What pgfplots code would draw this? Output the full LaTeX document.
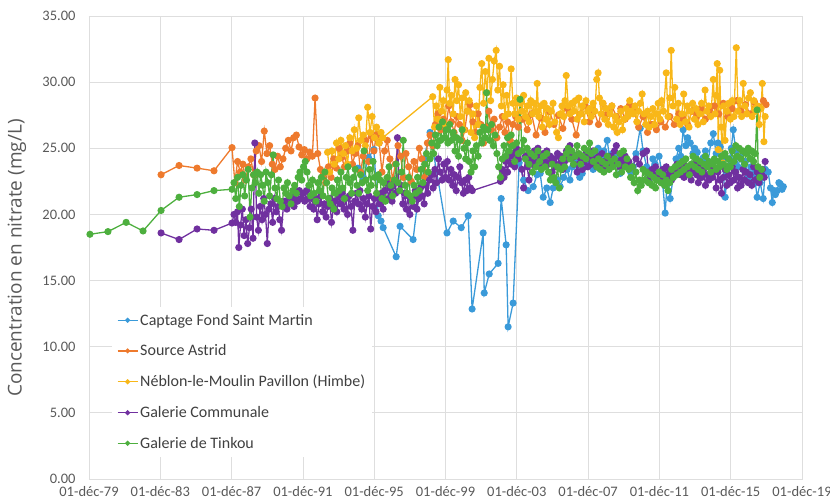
\documentclass[border=0pt]{standalone}
\usepackage{fontspec}
\setmainfont{Carlito}
\newfontfamily\labelfont{Open Sans}
\usepackage{pgfplots}
\pgfplotsset{compat=1.18}
\definecolor{cblue}{HTML}{3A9AD9}
\definecolor{corange}{HTML}{EE7A2D}
\definecolor{cyellow}{HTML}{F8B718}
\definecolor{cpurple}{HTML}{70309F}
\definecolor{cgreen}{HTML}{4DAF3E}
\definecolor{gridgray}{HTML}{DEDEDE}
\definecolor{txtgray}{HTML}{595959}
\definecolor{legtxt}{HTML}{404040}
\begin{document}
\begin{tikzpicture}
\begin{axis}[
  scale only axis, width=713pt, height=463pt,
  xmin=1979.917, xmax=2019.917, ymin=0, ymax=35,
  xtick={1979.917,1983.917,1987.917,1991.917,1995.917,1999.917,2003.917,2007.917,2011.917,2015.917,2019.917},
  xticklabels={01-déc-79,01-déc-83,01-déc-87,01-déc-91,01-déc-95,01-déc-99,01-déc-03,01-déc-07,01-déc-11,01-déc-15,01-déc-19},
  ytick={0,5,10,15,20,25,30,35},
  yticklabels={0.00,5.00,10.00,15.00,20.00,25.00,30.00,35.00},
  grid=major, major grid style={draw=gridgray, line width=0.8pt},
  axis line style={draw=gridgray, line width=0.8pt},
  major tick length=0pt,
  tick label style={font=\fontsize{14.5}{17}\selectfont, text=txtgray},
  xticklabel style={yshift=-4pt},
  yticklabel style={xshift=-10pt},
  ylabel={Concentration en nitrate (mg/L)},
  ylabel style={font=\labelfont\fontsize{19}{23}\selectfont, text=txtgray, at={(axis description cs:-0.101,0.477)}, anchor=center},
  legend style={at={(axis description cs:0.032,0.372)}, anchor=north west, fill=white, draw=none,
    font=\fontsize{16}{19}\selectfont, text=legtxt, row sep=14pt, inner sep=5pt},
  legend cell align=left,
  legend image code/.code={\draw[mark repeat=2,mark phase=2,mark size=1.8pt] plot coordinates {(0cm,0cm) (0.35cm,0cm) (0.7cm,0cm)};},
  every axis plot/.append style={line width=1.3pt, mark=*, mark size=2.9pt},
]
% Captage Fond Saint Martin
\addplot[color=cblue] coordinates {
(1995.0,23.5) (1995.3,22.8) (1995.6,24.3) (1995.9,24.9) (1996.14,19.9) (1996.3,19.5) (1996.42,19.0) (1997.15,16.8) (1997.37,19.1) (1998.1,18.1) (1998.4,21.5) (1998.7,24.2) (1999.05,26.2) (2000.0,18.6) (2000.35,19.5) (2000.8,19.0) (2001.19,19.9) (2001.41,12.85) (2002.03,18.6) (2002.09,14.06) (2002.37,15.5) (2002.87,16.3) (2003.04,21.2) (2003.32,17.7) (2003.43,11.5) (2003.71,13.3) (2004.05,23.9) (2004.3,22.6) (2004.55,21.8) (2004.84,22.1) (2005.05,23.0) (2005.23,23.1) (2005.4,21.3) (2005.6,22.0) (2005.79,20.9) (2005.96,22.0) (2006.18,22.6) (2006.35,22.1) (2006.55,22.8) (2006.74,23.4) (2006.9,22.6) (2007.05,23.6) (2007.3,23.9) (2007.45,22.8) (2007.59,23.1) (2007.8,23.8) (2008.03,24.3) (2008.2,23.4) (2008.35,24.6) (2008.48,25.0) (2008.65,24.2) (2008.8,24.8) (2008.99,25.6) (2009.15,24.0) (2009.27,24.6) (2009.45,23.8) (2009.6,24.4) (2009.72,23.1) (2009.9,23.8) (2010.11,24.0) (2010.3,23.2) (2010.45,23.6) (2010.6,24.6) (2010.84,26.5) (2011.0,24.8) (2011.2,23.6) (2011.4,22.8) (2011.55,24.2) (2011.68,23.8) (2011.9,24.4) (2012.05,23.2) (2012.24,20.1) (2012.38,23.0) (2012.52,21.2) (2012.69,22.8) (2012.85,24.2) (2013.0,25.0) (2013.12,24.4) (2013.25,26.4) (2013.4,25.2) (2013.5,25.8) (2013.65,25.4) (2013.8,24.6) (2013.9,25.0) (2014.04,24.7) (2014.2,23.8) (2014.38,24.3) (2014.5,24.8) (2014.65,24.0) (2014.8,25.4) (2014.94,26.1) (2015.1,24.6) (2015.2,25.4) (2015.33,25.1) (2015.45,24.0) (2015.61,21.3) (2015.72,23.1) (2015.85,24.2) (2015.95,25.0) (2016.06,26.4) (2016.2,24.8) (2016.32,23.6) (2016.45,24.3) (2016.6,23.4) (2016.75,24.0) (2016.9,22.8) (2017.05,23.6) (2017.18,23.1) (2017.3,22.4) (2017.4,21.3) (2017.57,22.4) (2017.74,21.2) (2017.86,23.4) (2018.02,23.2) (2018.15,22.0) (2018.25,20.9) (2018.35,21.8) (2018.42,21.5) (2018.53,21.8) (2018.62,22.4) (2018.7,22.3) (2018.8,21.9) (2018.87,22.1)
};
\addlegendentry{Captage Fond Saint Martin}
% Source Astrid
\addplot[color=corange] coordinates {
(1983.96,23.0) (1984.97,23.7) (1985.98,23.5) (1986.93,23.3) (1987.94,25.05)
(1988.1,22.4) (1988.25,24.0) (1988.4,23.2) (1988.55,23.8) (1988.7,22.6) (1988.85,23.6) (1989.0,24.2) (1989.15,23.0) (1989.3,24.8) (1989.45,25.2) (1989.6,24.0) (1989.75,26.3) (1989.9,24.6) (1990.05,25.2) (1990.2,23.8) (1990.35,23.4) (1990.5,24.4) (1990.65,23.6) (1990.8,24.2) (1990.95,25.0) (1991.1,25.6) (1991.25,24.8) (1991.4,25.8) (1991.55,26.0) (1991.7,25.1) (1991.85,24.5) (1992.0,24.9) (1992.15,24.2) (1992.3,24.7) (1992.45,24.4) (1992.6,28.8) (1992.75,24.6) (1992.9,23.4) (1993.05,23.0) (1993.2,22.4) (1993.35,23.6) (1993.5,22.8) (1993.65,24.2) (1993.8,23.5) (1993.95,25.0) (1994.1,24.3) (1994.25,23.6) (1994.4,24.8) (1994.55,25.4) (1994.7,23.8) (1994.85,24.6) (1995.0,25.2) (1995.15,23.2) (1995.3,24.4) (1995.45,25.6) (1995.6,24.0) (1995.75,25.9) (1995.9,24.8) (1996.05,26.0) (1996.2,25.4) (1996.35,23.2) (1996.5,24.8) (1996.65,25.6) (1996.8,24.2) (1996.95,22.6) (1997.1,23.8) (1997.25,25.2) (1997.4,24.4) (1997.55,22.8) (1997.7,24.6) (1997.85,23.6) (1998.0,22.5) (1998.15,24.0) (1998.3,23.4) (1998.45,25.0) (1998.6,24.2) (1998.75,22.8) (1998.9,25.4) (1999.05,26.0) (1999.2,25.2) (1999.35,26.8) (1999.5,27.6) (1999.65,26.4) (1999.8,27.2) (1999.95,26.6) (2000.1,28.2) (2000.25,27.0) (2000.4,26.2) (2000.55,27.4) (2000.7,26.8) (2000.85,25.6) (2001.0,26.4) (2001.15,27.8) (2001.3,28.3) (2001.45,27.0) (2001.6,26.2) (2001.75,27.6) (2001.9,26.8) (2002.05,25.4) (2002.2,26.6) (2002.35,27.8) (2002.5,26.4) (2002.65,27.2) (2002.8,25.8) (2002.95,26.6) (2003.1,27.4) (2003.25,26.2) (2003.4,27.0) (2003.55,25.6) (2003.7,26.8) (2003.85,27.4) (2004.0,26.6) (2004.25,27.2) (2004.5,26.4) (2004.75,27.6) (2005.0,26.0) (2005.25,27.3) (2005.5,26.2) (2005.75,27.8) (2006.0,26.8) (2006.25,27.5) (2006.5,26.5) (2006.75,28.0) (2007.0,27.2) (2007.25,26.0) (2007.5,27.6) (2007.75,28.2) (2008.0,27.0) (2008.25,27.8) (2008.5,26.8) (2008.75,28.4) (2009.0,27.6) (2009.25,28.2) (2009.5,27.4) (2009.75,28.0) (2010.0,27.2) (2010.25,28.3) (2010.5,27.8) (2010.75,26.6) (2011.0,27.4) (2011.25,26.2) (2011.5,26.8) (2011.75,26.4) (2012.0,27.0) (2012.25,26.6) (2012.5,27.4) (2012.75,26.8) (2013.0,27.6) (2013.25,27.2) (2013.5,26.8) (2013.75,27.8) (2014.0,27.4) (2014.25,28.0) (2014.5,27.2) (2014.75,27.8) (2015.0,28.2) (2015.25,27.6) (2015.5,28.4) (2015.75,27.4) (2016.0,28.0) (2016.25,28.6) (2016.5,27.8) (2016.75,28.3) (2017.0,27.6) (2017.25,28.5) (2017.5,28.1) (2017.75,28.6) (2017.9,28.3)
};
\addlegendentry{Source Astrid}
% Neblon
\addplot[color=cyellow] coordinates {
(1993.3,24.7) (1993.42,23.2) (1993.55,24.8) (1993.68,23.8) (1993.8,25.4) (1993.93,24.2) (1994.05,25.6) (1994.18,24.6) (1994.3,25.2) (1994.42,23.8) (1994.55,25.8) (1994.68,24.8) (1994.8,26.4) (1994.93,25.0) (1995.05,27.3) (1995.18,25.6) (1995.3,26.0) (1995.42,25.2) (1995.55,28.1) (1995.68,26.2) (1995.8,27.4) (1995.93,25.8) (1996.05,26.6) (1996.18,25.4) (1996.3,26.2) (1996.4,25.8)
(1999.2,28.9) (1999.3,26.6) (1999.4,28.2) (1999.5,27.2) (1999.6,29.6) (1999.7,27.8) (1999.8,28.6) (1999.9,26.8) (2000.0,29.4) (2000.07,31.7) (2000.15,28.4) (2000.25,29.0) (2000.35,27.6) (2000.45,30.2) (2000.55,28.6) (2000.65,29.8) (2000.75,27.4) (2000.85,28.8) (2000.95,26.4) (2001.05,29.2) (2001.15,27.8) (2001.25,28.6) (2001.35,26.2) (2001.45,27.6) (2001.55,25.8) (2001.65,28.2) (2001.75,26.8) (2001.85,29.6) (2001.95,31.4) (2002.05,28.4) (2002.15,30.8) (2002.25,29.2) (2002.35,31.8) (2002.45,28.6) (2002.55,30.2) (2002.65,31.6) (2002.76,32.4) (2002.85,29.4) (2002.95,31.2) (2003.05,28.2) (2003.15,29.8) (2003.25,27.4) (2003.35,29.0) (2003.45,27.6) (2003.6,31.0) (2003.7,28.4) (2003.8,27.6) (2003.9,28.8) (2004.0,27.2) (2004.1,28.4) (2004.2,27.8) (2004.3,29.0) (2004.4,27.4) (2004.5,28.2) (2004.6,27.0) (2004.7,28.6) (2004.8,27.6) (2004.9,28.4) (2005.0,27.8) (2005.06,29.9) (2005.15,27.4) (2005.25,28.2) (2005.35,26.6) (2005.45,28.4) (2005.55,27.2) (2005.65,28.0) (2005.75,26.8) (2005.85,27.8) (2005.95,28.4) (2006.05,27.0) (2006.15,26.2) (2006.25,25.8) (2006.35,27.6) (2006.45,28.2) (2006.55,27.4) (2006.62,28.6) (2006.69,30.5) (2006.8,28.2) (2006.9,27.6) (2007.0,28.4) (2007.1,27.8) (2007.2,28.6) (2007.3,27.2) (2007.4,28.8) (2007.5,27.6) (2007.6,28.2) (2007.7,27.0) (2007.8,28.6) (2007.9,27.8) (2008.0,28.0) (2008.1,27.4) (2008.2,28.4) (2008.3,27.8) (2008.4,30.2) (2008.48,30.7) (2008.55,28.8) (2008.65,27.6) (2008.75,28.4) (2008.85,27.2) (2008.95,28.0) (2009.05,26.8) (2009.15,27.6) (2009.25,28.2) (2009.35,26.6) (2009.45,27.4) (2009.55,26.2) (2009.65,27.0) (2009.75,27.8) (2009.85,26.4) (2009.95,27.2) (2010.05,28.0) (2010.15,27.4) (2010.25,28.6) (2010.35,27.8) (2010.45,27.6) (2010.55,28.2) (2010.65,27.0) (2010.75,27.8) (2010.85,28.4) (2010.95,29.1) (2011.05,27.6) (2011.15,26.8) (2011.25,27.8) (2011.35,26.6) (2011.45,27.4) (2011.55,28.0) (2011.65,26.8) (2011.75,27.6) (2011.85,28.4) (2011.95,27.2) (2012.05,28.6) (2012.15,27.8) (2012.3,30.7) (2012.4,27.4) (2012.5,28.8) (2012.58,32.4) (2012.68,28.2) (2012.78,29.6) (2012.88,27.2) (2012.98,28.4) (2013.08,26.8) (2013.18,27.6) (2013.28,29.1) (2013.38,27.0) (2013.48,28.2) (2013.58,26.6) (2013.68,27.8) (2013.78,28.4) (2013.88,27.2) (2013.98,28.0) (2014.08,26.8) (2014.18,27.6) (2014.28,28.4) (2014.38,27.0) (2014.48,29.4) (2014.58,27.8) (2014.68,28.2) (2014.8,27.4) (2014.94,30.2) (2015.04,27.6) (2015.1,29.0) (2015.16,31.4) (2015.22,24.9) (2015.3,30.9) (2015.38,26.6) (2015.45,23.9) (2015.52,28.2) (2015.6,25.6) (2015.7,27.8) (2015.8,28.4) (2015.9,27.2) (2016.0,28.6) (2016.1,27.4) (2016.23,32.6) (2016.33,27.8) (2016.43,28.6) (2016.53,27.4) (2016.62,29.9) (2016.72,28.2) (2016.82,27.6) (2016.92,28.8) (2017.02,29.2) (2017.12,27.4) (2017.22,28.6) (2017.32,27.8) (2017.42,28.2) (2017.52,26.8) (2017.62,28.0) (2017.69,29.9) (2017.78,25.5) (2017.85,27.4)
};
\addlegendentry{Néblon-le-Moulin Pavillon (Himbe)}
% Galerie Communale
\addplot[color=cpurple] coordinates {
(1983.96,18.6) (1984.97,18.1) (1985.98,18.9) (1986.93,18.8) (1987.94,19.35)
(1988.05,20.0) (1988.15,19.4) (1988.25,20.2) (1988.32,17.5) (1988.42,19.2) (1988.52,20.4) (1988.62,18.4) (1988.72,19.6) (1988.82,17.8) (1988.92,19.0) (1989.02,20.4) (1989.12,18.2) (1989.22,25.4) (1989.32,19.8) (1989.42,18.8) (1989.52,20.6) (1989.62,19.6) (1989.72,21.2) (1989.82,20.0) (1989.92,17.8) (1990.02,20.4) (1990.12,20.8) (1990.22,19.4) (1990.32,21.2) (1990.42,20.2) (1990.52,20.6) (1990.62,19.6) (1990.72,18.8) (1990.82,20.6) (1990.92,21.0) (1991.02,20.4) (1991.12,21.4) (1991.22,20.8) (1991.32,21.2) (1991.42,20.6) (1991.52,21.6) (1991.62,21.0) (1991.72,21.8) (1991.82,21.2) (1991.92,21.6) (1992.02,21.0) (1992.12,21.8) (1992.22,21.2) (1992.32,20.6) (1992.42,21.4) (1992.52,20.4) (1992.62,21.2) (1992.72,19.6) (1992.82,20.8) (1992.92,21.4) (1993.02,20.2) (1993.12,20.8) (1993.22,19.8) (1993.32,20.6) (1993.42,21.2) (1993.52,19.4) (1993.62,20.4) (1993.72,21.0) (1993.82,20.2) (1993.92,21.4) (1994.02,20.8) (1994.12,21.6) (1994.22,20.4) (1994.32,21.2) (1994.42,20.0) (1994.52,21.4) (1994.62,20.6) (1994.72,18.8) (1994.82,21.0) (1994.92,21.6) (1995.02,20.8) (1995.12,21.8) (1995.22,20.4) (1995.32,21.2) (1995.42,19.8) (1995.52,20.8) (1995.62,21.4) (1995.72,18.9) (1995.82,20.6) (1995.92,21.2) (1996.02,20.2) (1996.12,21.4) (1996.22,20.8) (1996.32,21.6) (1996.42,20.4) (1996.52,21.8) (1996.62,22.4) (1996.72,21.2) (1996.82,22.0) (1996.92,21.0) (1997.02,22.4) (1997.12,21.6) (1997.22,25.8) (1997.32,21.8) (1997.42,22.2) (1997.52,20.8) (1997.62,21.6) (1997.72,20.4) (1997.82,21.4) (1997.92,20.0) (1998.02,21.2) (1998.12,20.6) (1998.22,21.8) (1998.32,20.4) (1998.42,21.2) (1998.52,22.0) (1998.62,21.4) (1998.72,20.8) (1998.82,22.2) (1998.92,21.6) (1999.02,22.6) (1999.12,23.0) (1999.22,22.0) (1999.32,23.4) (1999.42,22.4) (1999.52,24.2) (1999.62,23.2) (1999.72,22.6) (1999.82,23.8) (1999.92,22.8) (2000.02,24.0) (2000.12,22.6) (2000.22,23.4) (2000.32,22.2) (2000.42,23.0) (2000.52,21.8) (2000.62,22.8) (2000.72,23.6) (2000.82,22.4) (2000.92,21.6) (2001.02,22.6) (2001.12,21.8) (2001.22,22.8) (2001.32,22.0) (2001.42,21.8)
(2003.0,22.5) (2003.1,23.4) (2003.2,22.8) (2003.3,24.0) (2003.4,23.2) (2003.5,24.4) (2003.6,23.8) (2003.7,24.6) (2003.8,23.6) (2003.9,25.0) (2004.0,24.2) (2004.1,24.8) (2004.2,23.4) (2004.3,22.0) (2004.4,24.4) (2004.5,23.6) (2004.6,22.6) (2004.7,24.2) (2004.8,23.8) (2004.9,24.8) (2005.0,24.2) (2005.1,25.0) (2005.2,24.4) (2005.3,23.6) (2005.4,24.6) (2005.5,24.0) (2005.6,24.8) (2005.7,23.8) (2005.8,24.4) (2005.9,23.2) (2006.0,24.2) (2006.1,23.6) (2006.2,24.6) (2006.3,23.8) (2006.4,24.4) (2006.5,23.4) (2006.6,24.0) (2006.7,24.8) (2006.8,24.2) (2006.9,25.2) (2007.0,24.6) (2007.1,23.8) (2007.2,24.4) (2007.3,23.2) (2007.4,23.8) (2007.5,24.2) (2007.6,23.4) (2007.7,24.0) (2007.8,24.6) (2007.9,23.6) (2008.0,24.2) (2008.1,23.8) (2008.2,24.8) (2008.3,24.2) (2008.4,23.6) (2008.5,24.4) (2008.6,23.8) (2008.7,24.6) (2008.8,24.0) (2008.9,23.4) (2009.0,24.2) (2009.1,23.6) (2009.2,24.4) (2009.3,23.8) (2009.4,24.8) (2009.5,25.2) (2009.6,24.0) (2009.7,23.6) (2009.8,24.2) (2009.9,23.8) (2010.0,24.4) (2010.2,24.0) (2010.4,23.6) (2010.6,24.2) (2010.8,23.8) (2011.0,24.6) (2011.2,24.8) (2011.3,23.2) (2011.4,22.8) (2011.5,23.4) (2011.6,23.0) (2011.7,23.6) (2011.8,22.8) (2011.9,23.2) (2012.0,22.6) (2012.1,23.4) (2012.2,23.0) (2012.3,23.6) (2012.4,22.8) (2012.5,23.2) (2012.6,22.6) (2012.7,23.4) (2012.8,23.0) (2012.9,23.8) (2013.0,23.2) (2013.1,23.0) (2013.2,23.4) (2013.3,22.8) (2013.4,23.6) (2013.5,23.0) (2013.6,23.4) (2013.7,22.6) (2013.8,23.2) (2013.9,23.8) (2014.0,23.0) (2014.1,22.4) (2014.2,23.6) (2014.3,22.8) (2014.4,23.4) (2014.5,22.2) (2014.6,23.0) (2014.7,22.6) (2014.8,23.6) (2014.9,22.8) (2015.0,23.4) (2015.1,22.0) (2015.2,23.2) (2015.3,22.6) (2015.4,21.6) (2015.5,22.8) (2015.6,23.4) (2015.7,22.2) (2015.8,23.0) (2015.9,22.4) (2016.0,23.6) (2016.1,22.6) (2016.2,23.2) (2016.3,22.0) (2016.4,22.8) (2016.5,22.2) (2016.6,23.4) (2016.7,22.6) (2016.8,23.2) (2016.9,22.4) (2017.0,23.0) (2017.1,22.2) (2017.2,23.6) (2017.3,22.6) (2017.4,23.2) (2017.5,22.4) (2017.6,23.0) (2017.7,23.4) (2017.8,22.8) (2017.85,24.0)
};
\addlegendentry{Galerie Communale}
% Galerie de Tinkou
\addplot[color=cgreen] coordinates {
(1979.97,18.5) (1980.98,18.7) (1982.0,19.4) (1982.95,18.75) (1983.96,20.3) (1984.97,21.3) (1985.98,21.5) (1986.93,21.8) (1987.94,21.9)
(1988.05,22.4) (1988.15,21.2) (1988.25,22.8) (1988.35,20.6) (1988.45,22.2) (1988.55,23.0) (1988.65,21.4) (1988.75,22.6) (1988.85,23.4) (1988.95,19.8) (1989.05,22.0) (1989.15,23.0) (1989.25,22.4) (1989.35,23.2) (1989.45,21.6) (1989.55,23.0) (1989.65,22.2) (1989.75,21.0) (1989.85,23.2) (1989.95,22.4) (1990.05,21.4) (1990.15,23.0) (1990.25,24.5) (1990.35,22.0) (1990.45,21.2) (1990.55,22.6) (1990.65,21.0) (1990.75,20.6) (1990.85,22.0) (1990.95,21.6) (1991.05,22.4) (1991.15,21.4) (1991.25,20.8) (1991.35,21.8) (1991.45,22.2) (1991.55,21.6) (1991.65,22.8) (1991.75,23.2) (1991.85,22.6) (1991.95,23.6) (1992.05,24.0) (1992.15,23.2) (1992.25,22.2) (1992.35,21.4) (1992.45,22.6) (1992.55,21.6) (1992.65,21.0) (1992.75,22.4) (1992.85,21.8) (1992.95,22.8) (1993.05,21.4) (1993.15,23.2) (1993.25,22.4) (1993.35,21.2) (1993.45,20.8) (1993.55,22.0) (1993.65,20.4) (1993.75,21.6) (1993.85,22.6) (1993.95,21.8) (1994.05,23.2) (1994.15,22.0) (1994.25,21.2) (1994.35,22.8) (1994.45,23.6) (1994.55,22.4) (1994.65,21.6) (1994.75,22.8) (1994.85,23.4) (1994.95,22.2) (1995.05,21.6) (1995.15,23.0) (1995.25,22.4) (1995.35,24.8) (1995.45,22.6) (1995.55,21.8) (1995.65,23.4) (1995.75,22.2) (1995.85,24.0) (1995.95,22.8) (1996.05,21.6) (1996.15,23.0) (1996.25,22.6) (1996.35,21.2) (1996.45,22.4) (1996.55,21.0) (1996.65,22.8) (1996.75,23.6) (1996.85,22.2) (1996.95,21.4) (1997.05,22.6) (1997.15,23.8) (1997.25,22.4) (1997.35,21.8) (1997.45,23.2) (1997.55,25.6) (1997.65,22.2) (1997.75,21.6) (1997.85,22.8) (1997.95,21.4) (1998.05,21.0) (1998.15,22.2) (1998.25,21.6) (1998.35,22.8) (1998.45,21.8) (1998.55,23.4) (1998.65,22.4) (1998.75,23.8) (1998.85,24.6) (1998.95,23.2) (1999.05,24.2) (1999.15,25.4) (1999.25,24.6) (1999.35,26.0) (1999.45,25.2) (1999.55,26.6) (1999.65,25.6) (1999.75,27.0) (1999.85,25.8) (1999.95,26.4) (2000.05,25.4) (2000.15,26.8) (2000.25,25.6) (2000.35,26.2) (2000.45,24.8) (2000.55,25.8) (2000.65,24.4) (2000.75,25.6) (2000.85,26.4) (2000.95,25.0) (2001.05,24.2) (2001.15,25.4) (2001.25,24.0) (2001.35,23.2) (2001.45,24.8) (2001.55,23.6) (2001.65,25.2) (2001.75,24.4) (2001.85,26.2) (2001.95,25.4) (2002.05,26.6) (2002.15,25.8) (2002.22,29.2) (2002.3,26.4) (2002.4,25.6) (2002.5,26.8) (2002.6,25.2) (2002.7,26.0) (2002.8,24.6) (2002.9,23.6) (2003.0,22.8) (2003.1,24.2) (2003.2,25.2) (2003.3,24.4) (2003.4,25.8) (2003.5,24.8) (2003.6,26.0) (2003.7,25.2) (2003.8,24.0) (2003.9,25.4) (2004.0,24.6) (2004.1,28.7) (2004.2,24.8) (2004.3,25.6) (2004.4,24.2) (2004.5,25.0) (2004.6,23.8) (2004.7,24.6) (2004.8,23.2) (2004.9,24.4) (2005.0,23.6) (2005.1,24.8) (2005.2,24.0) (2005.3,23.4) (2005.4,24.4) (2005.5,23.6) (2005.6,24.6) (2005.7,23.2) (2005.8,22.6) (2005.9,23.8) (2006.0,22.8) (2006.1,22.4) (2006.2,23.6) (2006.3,22.0) (2006.4,23.4) (2006.5,24.2) (2006.6,23.6) (2006.7,24.6) (2006.8,25.0) (2006.9,24.2) (2007.0,24.8) (2007.1,23.8) (2007.2,24.4) (2007.3,25.2) (2007.4,24.6) (2007.5,23.8) (2007.6,24.4) (2007.7,25.0) (2007.8,24.2) (2007.9,24.8) (2008.0,25.4) (2008.1,24.6) (2008.2,24.0) (2008.3,24.8) (2008.4,23.6) (2008.5,24.2) (2008.6,23.4) (2008.7,24.0) (2008.8,23.2) (2008.9,23.8) (2009.0,24.4) (2009.1,23.4) (2009.2,24.0) (2009.3,23.6) (2009.4,24.2) (2009.5,23.0) (2009.6,23.8) (2009.7,24.6) (2009.8,23.2) (2009.9,24.8) (2010.0,23.6) (2010.1,24.2) (2010.2,23.4) (2010.3,22.8) (2010.4,23.6) (2010.5,22.4) (2010.6,23.2) (2010.7,21.8) (2010.8,22.6) (2010.9,22.2) (2011.0,23.4) (2011.1,22.6) (2011.2,23.2) (2011.3,22.4) (2011.4,23.0) (2011.5,22.2) (2011.6,22.8) (2011.7,22.0) (2011.8,22.6) (2011.9,23.2) (2012.0,22.4) (2012.1,23.0) (2012.2,22.2) (2012.3,22.6) (2012.4,21.8) (2012.5,22.4) (2012.6,23.4) (2012.7,22.8) (2012.8,23.6) (2012.9,23.0) (2013.0,23.8) (2013.1,23.2) (2013.2,24.0) (2013.3,23.4) (2013.4,24.2) (2013.5,23.6) (2013.6,23.0) (2013.7,23.8) (2013.8,24.4) (2013.9,23.6) (2014.0,24.2) (2014.1,23.4) (2014.2,24.0) (2014.3,23.2) (2014.4,23.8) (2014.5,24.4) (2014.6,23.6) (2014.7,24.0) (2014.8,23.2) (2014.9,23.8) (2015.0,24.2) (2015.1,23.4) (2015.2,24.0) (2015.3,23.6) (2015.4,24.4) (2015.5,23.8) (2015.6,24.6) (2015.7,23.4) (2015.8,24.2) (2015.9,23.6) (2016.0,24.8) (2016.1,24.0) (2016.2,25.2) (2016.3,24.4) (2016.4,25.0) (2016.5,24.2) (2016.6,24.8) (2016.7,23.8) (2016.8,24.6) (2016.9,25.0) (2017.0,24.2) (2017.1,24.8) (2017.2,24.0) (2017.3,24.6) (2017.4,27.9) (2017.45,23.6) (2017.55,22.8) (2017.65,23.4)
};
\addlegendentry{Galerie de Tinkou}
\end{axis}
\pgfresetboundingbox
\path[use as bounding box] (-89pt,-24pt) rectangle (741pt,479pt);
\end{tikzpicture}
\end{document}
